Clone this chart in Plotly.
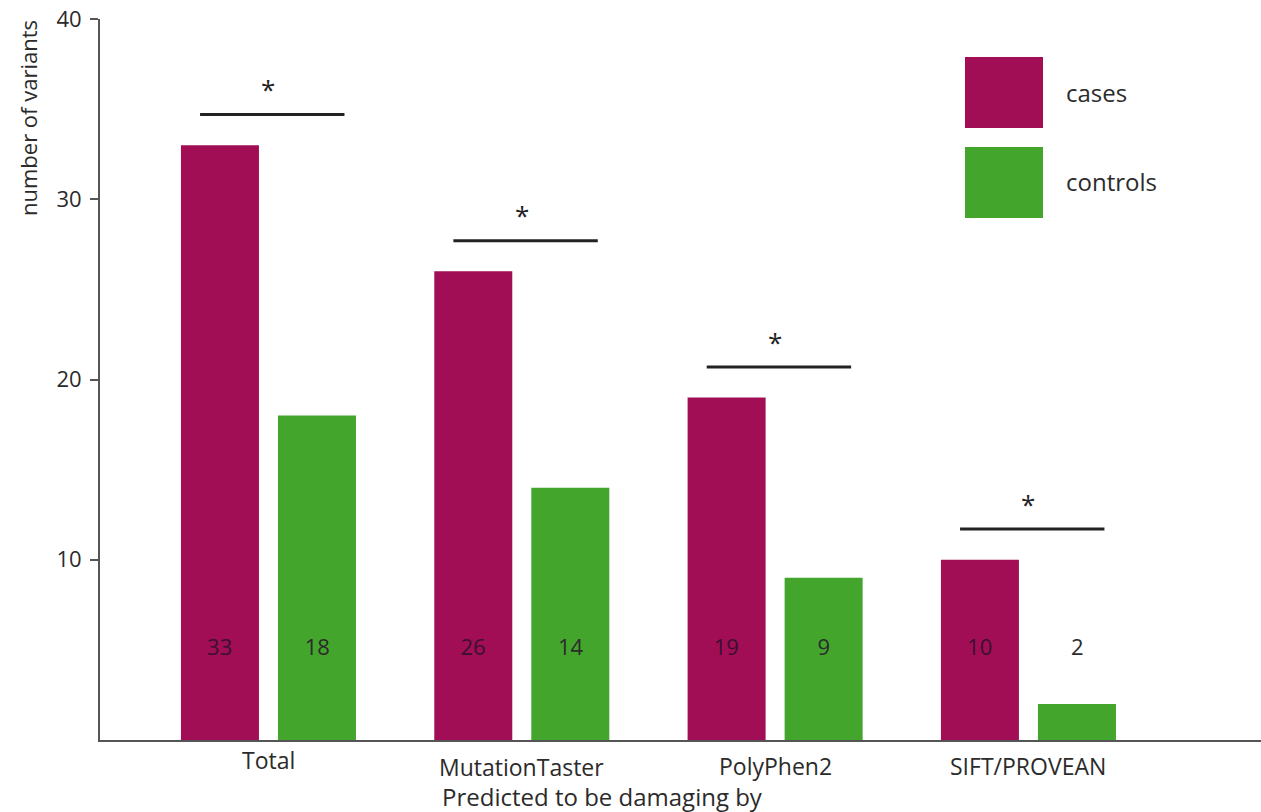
import plotly.graph_objects as go

categories = ["Total", "MutationTaster", "PolyPhen2", "SIFT/PROVEAN"]
cases = [33, 26, 19, 10]
controls = [18, 14, 9, 2]
y_ticks = [10, 20, 30, 40]
series_names = ["cases", "controls"]

CASE_COL = "#A20E55"
CTRL_COL = "#43A52C"
FONT = "Open Sans"
TXT = "#2b2b2b"

W, H = 1261, 812
L, R, T, B = 100, 0, 19, 812 - 740
pw, ph = W - L - R, H - T - B

def px(xpix):
    return (xpix - L) / pw

def py(ypix):
    return (H - B - ypix) / ph

xi = list(range(len(categories)))

fig = go.Figure()
fig.add_trace(go.Bar(x=xi, y=cases, name=series_names[0], marker=dict(color=CASE_COL, line=dict(width=0)),
                     showlegend=False, hoverinfo="skip"))
fig.add_trace(go.Bar(x=xi, y=controls, name=series_names[1], marker=dict(color=CTRL_COL, line=dict(width=0)),
                     showlegend=False, hoverinfo="skip"))

off = 0.1925
fig.add_trace(go.Scatter(x=[i - off for i in xi], y=[5] * len(xi), mode="text",
                         text=[str(v) for v in cases], textfont=dict(family=FONT, size=22, color="#3a1030"),
                         showlegend=False, hoverinfo="skip"))
fig.add_trace(go.Scatter(x=[i + off for i in xi], y=[5] * len(xi), mode="text",
                         text=[str(v) for v in controls], textfont=dict(family=FONT, size=22, color=TXT),
                         showlegend=False, hoverinfo="skip"))

shapes = []
annotations = []
for i, v in zip(xi, cases):
    shapes.append(dict(type="line", xref="x", yref="y", x0=i - 0.27, x1=i + 0.3, y0=v + 1.7, y1=v + 1.7,
                       line=dict(color="#222222", width=3)))
    annotations.append(dict(x=i, y=v + 3.1, xref="x", yref="y", text="*", showarrow=False,
                            xanchor="center", yanchor="middle",
                            font=dict(family=FONT, size=26, color="#222222")))

label_y = [760, 767, 766, 766]
for i, (c, ly) in enumerate(zip(categories, label_y)):
    annotations.append(dict(x=i, y=py(ly), xref="x", yref="paper", text=c, showarrow=False,
                            xanchor="center", yanchor="middle",
                            font=dict(family=FONT, size=23, color=TXT)))

annotations.append(dict(x=px(602), y=py(796), xref="paper", yref="paper", text="Predicted to be damaging by",
                        showarrow=False, xanchor="center", yanchor="middle",
                        font=dict(family=FONT, size=24, color=TXT)))
annotations.append(dict(x=px(28), y=py(118), xref="paper", yref="paper", text="number of variants",
                        showarrow=False, textangle=-90, xanchor="center", yanchor="middle",
                        font=dict(family=FONT, size=22, color=TXT)))

for name, col, y0, y1, ty in [(series_names[0], CASE_COL, 57, 128, 93), (series_names[1], CTRL_COL, 147, 218, 181)]:
    shapes.append(dict(type="rect", xref="paper", yref="paper", x0=px(965), x1=px(1043), y0=py(y1), y1=py(y0),
                       fillcolor=col, line=dict(width=0)))
    annotations.append(dict(x=px(1064), y=py(ty), xref="paper", yref="paper", text=name, showarrow=False,
                            xanchor="left", yanchor="middle",
                            font=dict(family=FONT, size=24, color=TXT)))

fig.update_layout(
    width=W, height=H,
    margin=dict(l=L, r=R, t=T, b=B),
    paper_bgcolor="white", plot_bgcolor="white",
    barmode="group", bargap=0.234, bargroupgap=0.196,
    shapes=shapes, annotations=annotations,
    xaxis=dict(range=[-0.665, 3.918], showticklabels=False, ticks="", showgrid=False, zeroline=False,
               showline=True, linecolor="#555555", linewidth=2, fixedrange=True),
    yaxis=dict(range=[0, 40], tickvals=y_ticks, ticks="outside", ticklen=8, tickwidth=2, tickcolor="#555555",
               ticklabelstandoff=4, ticklabeloverflow="allow",
               showgrid=False, zeroline=False, showline=True, linecolor="#555555", linewidth=2,
               tickfont=dict(family=FONT, size=22, color=TXT), fixedrange=True),
    font=dict(family=FONT),
)

fig.write_html("out.html", config={"displayModeBar": False},
               post_script="document.body.style.margin='0';document.body.style.overflow='hidden';")
